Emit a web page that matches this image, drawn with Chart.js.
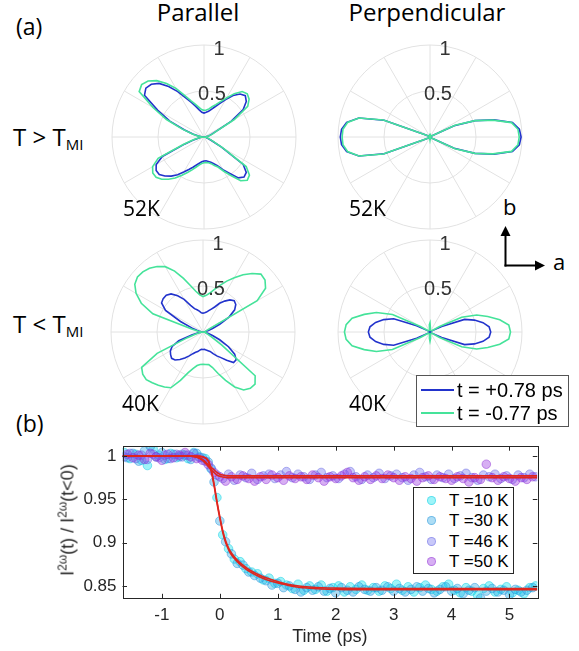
<!DOCTYPE html>
<html>
<head>
<meta charset="utf-8">
<script src="https://cdn.jsdelivr.net/npm/chart.js@4.4.1/dist/chart.umd.min.js"></script>
<style>
  html, body { margin: 0; padding: 0; background: #fff; }
  #fig { position: relative; width: 579px; height: 651px; overflow: hidden; font-family: 'Open Sans', sans-serif; color: #000; }
  #fig canvas { position: absolute; }
  .lbl { position: absolute; line-height: 1; white-space: nowrap; }
  .big { font-size: 24px; }
  .temp { font-size: 21px; }
  .tick { font-family: 'Liberation Sans', Arial, sans-serif; font-size: 20px; color: #333; width: 40px; text-align: center; }
  .box { position: absolute; box-sizing: border-box; background: #fff; font-family: 'Liberation Sans', Arial, sans-serif; }
  .box .lbl { color: #000; }
  .swatch { position: absolute; height: 2px; width: 33px; }
  .dot { position: absolute; width: 9px; height: 9px; border-radius: 50%; box-sizing: border-box; border: 1px solid; }
  #ytitle { position: absolute; left: 68px; top: 520px; transform: translate(-50%, -50%) rotate(-90deg);
            font-family: 'Liberation Sans', Arial, sans-serif; font-size: 18px; color: #262626; white-space: nowrap; }
  #ytitle sup { font-size: 12px; vertical-align: 7px; line-height: 0; }
</style>
</head>
<body>
<div id="fig">
  <div class="lbl big" style="left:16px; top:15px; font-size:23px;">(a)</div>
  <div class="lbl big" style="left:98px; top:0px; width:200px; text-align:center;">Parallel</div>
  <div class="lbl big" style="left:327px; top:0px; width:200px; text-align:center;">Perpendicular</div>
  <div class="lbl big" style="left:13px; top:125px;">T &gt; T<span style="font-size:15px; vertical-align:-4px;">MI</span></div>
  <div class="lbl big" style="left:13px; top:312px;">T &lt; T<span style="font-size:15px; vertical-align:-4px;">MI</span></div>
  <div class="lbl big" style="left:16px; top:412px; font-size:23px;">(b)</div>

  <svg style="position:absolute; left:0; top:0;" width="579" height="651">
    <line x1="505.5" y1="266.5" x2="505.5" y2="233" stroke="#000" stroke-width="2"/>
    <polygon points="505.5,226 500.5,236 510.5,236" fill="#000"/>
    <line x1="504.5" y1="265.5" x2="537" y2="265.5" stroke="#000" stroke-width="2"/>
    <polygon points="545,265.5 535,260.5 535,270.5" fill="#000"/>
  </svg>
  <div class="lbl" style="left:503px; top:195px; font-size:22px;">b</div>
  <div class="lbl" style="left:553px; top:250px; font-size:22px;">a</div>

  <canvas id="timeChart" width="579" height="221" style="left:0; top:430px;"></canvas>
  <div id="ytitle">I<sup>2ω</sup>(t) / I<sup>2ω</sup>(t&lt;0)</div>
</div>

<script>
// polar angles in degrees, counter-clockwise from the +a axis
const polarAngles = [0, 5, 10, 15, 20, 25, 30, 35, 40, 45, 50, 55, 60, 65, 70, 75, 80, 85,
  90, 95, 100, 105, 110, 115, 120, 125, 130, 135, 140, 145, 150, 155, 160, 165, 170, 175,
  180, 185, 190, 195, 200, 205, 210, 215, 220, 225, 230, 235, 240, 245, 250, 255, 260, 265,
  270, 275, 280, 285, 290, 295, 300, 305, 310, 315, 320, 325, 330, 335, 340, 345, 350, 355];

// normalised SHG intensity, parallel channel, 52 K
const parallel52Green = [0.00, 0.02, 0.04, 0.07, 0.10, 0.15, 0.38, 0.58, 0.64, 0.665, 0.645, 0.575, 0.49, 0.425, 0.375, 0.34, 0.31, 0.295,
  0.29, 0.30, 0.33, 0.37, 0.42, 0.50, 0.61, 0.71, 0.80, 0.86, 0.885, 0.86, 0.64, 0.45, 0.25, 0.13, 0.07, 0.03,
  0.00, 0.03, 0.06, 0.12, 0.24, 0.55, 0.645, 0.68, 0.68, 0.65, 0.60, 0.545, 0.48, 0.425, 0.38, 0.34, 0.31, 0.29,
  0.28, 0.28, 0.285, 0.30, 0.33, 0.36, 0.43, 0.51, 0.62, 0.665, 0.645, 0.56, 0.24, 0.10, 0.06, 0.04, 0.02, 0.01];
const parallel52Blue = [0.00, 0.02, 0.04, 0.06, 0.09, 0.14, 0.34, 0.52, 0.60, 0.635, 0.61, 0.55, 0.47, 0.40, 0.35, 0.31, 0.285, 0.27,
  0.26, 0.27, 0.30, 0.345, 0.40, 0.47, 0.57, 0.67, 0.76, 0.81, 0.825, 0.79, 0.58, 0.41, 0.23, 0.12, 0.06, 0.03,
  0.00, 0.03, 0.05, 0.11, 0.22, 0.50, 0.60, 0.635, 0.635, 0.60, 0.555, 0.50, 0.44, 0.39, 0.35, 0.315, 0.29, 0.27,
  0.26, 0.26, 0.27, 0.285, 0.31, 0.345, 0.41, 0.48, 0.58, 0.615, 0.60, 0.52, 0.22, 0.09, 0.05, 0.03, 0.02, 0.01];

// perpendicular channel, 52 K
const perp52Green = [0.97, 0.96, 0.90, 0.71, 0.52, 0.30, 0.04, 0.02, 0.01, 0.01, 0.01, 0.01, 0.01, 0.01, 0.01, 0.01, 0.02, 0.03,
  0.03, 0.02, 0.01, 0.01, 0.01, 0.01, 0.01, 0.01, 0.01, 0.01, 0.01, 0.01, 0.02, 0.05, 0.54, 0.80, 0.91, 0.95,
  0.955, 0.95, 0.91, 0.80, 0.54, 0.05, 0.02, 0.01, 0.01, 0.01, 0.01, 0.01, 0.01, 0.01, 0.01, 0.01, 0.01, 0.02,
  0.03, 0.02, 0.01, 0.01, 0.01, 0.01, 0.01, 0.01, 0.01, 0.01, 0.01, 0.01, 0.04, 0.30, 0.52, 0.71, 0.90, 0.96];
const perp52Blue = [0.99, 0.975, 0.91, 0.72, 0.52, 0.29, 0.04, 0.02, 0.01, 0.01, 0.01, 0.01, 0.01, 0.01, 0.01, 0.01, 0.01, 0.02,
  0.02, 0.01, 0.01, 0.01, 0.01, 0.01, 0.01, 0.01, 0.01, 0.01, 0.01, 0.01, 0.02, 0.05, 0.53, 0.80, 0.92, 0.965,
  0.975, 0.965, 0.92, 0.80, 0.53, 0.05, 0.02, 0.01, 0.01, 0.01, 0.01, 0.01, 0.01, 0.01, 0.01, 0.01, 0.01, 0.02,
  0.02, 0.01, 0.01, 0.01, 0.01, 0.01, 0.01, 0.01, 0.01, 0.01, 0.01, 0.01, 0.04, 0.29, 0.52, 0.72, 0.91, 0.975];

// parallel channel, 40 K
const parallel40Green = [0.00, 0.01, 0.02, 0.03, 0.04, 0.05, 0.68, 0.83, 0.88, 0.89, 0.83, 0.76, 0.68, 0.61, 0.54, 0.48, 0.43, 0.40,
  0.385, 0.405, 0.45, 0.52, 0.62, 0.73, 0.82, 0.87, 0.905, 0.925, 0.93, 0.905, 0.84, 0.74, 0.58, 0.12, 0.05, 0.02,
  0.00, 0.02, 0.04, 0.08, 0.18, 0.55, 0.77, 0.80, 0.805, 0.78, 0.755, 0.73, 0.70, 0.58, 0.47, 0.41, 0.37, 0.355,
  0.35, 0.355, 0.36, 0.40, 0.48, 0.58, 0.69, 0.77, 0.80, 0.80, 0.74, 0.25, 0.11, 0.06, 0.04, 0.03, 0.02, 0.01];
const parallel40Blue = [0.00, 0.01, 0.03, 0.06, 0.11, 0.20, 0.33, 0.42, 0.465, 0.48, 0.455, 0.41, 0.36, 0.30, 0.265, 0.24, 0.22, 0.21,
  0.205, 0.21, 0.23, 0.25, 0.27, 0.32, 0.41, 0.48, 0.54, 0.565, 0.565, 0.55, 0.47, 0.27, 0.13, 0.07, 0.04, 0.02,
  0.00, 0.02, 0.05, 0.12, 0.28, 0.37, 0.41, 0.43, 0.445, 0.43, 0.39, 0.345, 0.30, 0.26, 0.235, 0.22, 0.20, 0.19,
  0.19, 0.19, 0.20, 0.21, 0.225, 0.26, 0.30, 0.34, 0.40, 0.47, 0.47, 0.42, 0.32, 0.20, 0.11, 0.06, 0.03, 0.01];

// perpendicular channel, 40 K
const perp40Green = [0.875, 0.86, 0.77, 0.65, 0.54, 0.38, 0.12, 0.03, 0.02, 0.02, 0.02, 0.02, 0.02, 0.02, 0.02, 0.02, 0.02, 0.05,
  0.10, 0.08, 0.03, 0.02, 0.02, 0.02, 0.02, 0.02, 0.02, 0.02, 0.02, 0.03, 0.12, 0.45, 0.62, 0.74, 0.86, 0.915,
  0.93, 0.915, 0.86, 0.74, 0.62, 0.45, 0.12, 0.03, 0.02, 0.02, 0.02, 0.02, 0.02, 0.02, 0.02, 0.02, 0.03, 0.07,
  0.10, 0.07, 0.03, 0.02, 0.02, 0.02, 0.02, 0.02, 0.02, 0.02, 0.02, 0.02, 0.12, 0.38, 0.54, 0.65, 0.77, 0.86];
const perp40Blue = [0.66, 0.645, 0.585, 0.50, 0.40, 0.14, 0.03, 0.01, 0.01, 0.01, 0.01, 0.01, 0.01, 0.01, 0.01, 0.01, 0.01, 0.01,
  0.02, 0.01, 0.01, 0.01, 0.01, 0.01, 0.01, 0.01, 0.01, 0.01, 0.01, 0.01, 0.03, 0.16, 0.42, 0.52, 0.60, 0.655,
  0.67, 0.655, 0.60, 0.52, 0.42, 0.16, 0.03, 0.01, 0.01, 0.01, 0.01, 0.01, 0.01, 0.01, 0.01, 0.01, 0.01, 0.01,
  0.03, 0.01, 0.01, 0.01, 0.01, 0.01, 0.01, 0.01, 0.01, 0.01, 0.01, 0.01, 0.03, 0.14, 0.40, 0.50, 0.585, 0.645];

const polarTickLabels = ['1', '0.5'];
const polarLegend = ['t = +0.78 ps', 't = -0.77 ps'];

// panel (b): delay times (ps) and normalised SHG signal
const timeA = [-1.65, -1.55, -1.45, -1.35, -1.25, -1.15, -1.05, -0.95, -0.85, -0.75, -0.65, -0.55, -0.45, -0.35, -0.25, -0.15, -0.05,
  0.05, 0.15, 0.25, 0.35, 0.45, 0.55, 0.65, 0.75, 0.85, 0.95, 1.05, 1.15, 1.25, 1.35, 1.45, 1.55, 1.65, 1.75, 1.85, 1.95,
  2.05, 2.15, 2.25, 2.35, 2.45, 2.55, 2.65, 2.75, 2.85, 2.95, 3.05, 3.15, 3.25, 3.35, 3.45, 3.55, 3.65, 3.75, 3.85, 3.95,
  4.05, 4.15, 4.25, 4.35, 4.45, 4.55, 4.65, 4.75, 4.85, 4.95, 5.05, 5.15, 5.25, 5.35, 5.45];
const timeB = [-1.6, -1.5, -1.4, -1.3, -1.2, -1.1, -1.0, -0.9, -0.8, -0.7, -0.6, -0.5, -0.4, -0.3, -0.2, -0.1,
  0.0, 0.1, 0.2, 0.3, 0.4, 0.5, 0.6, 0.7, 0.8, 0.9, 1.0, 1.1, 1.2, 1.3, 1.4, 1.5, 1.6, 1.7, 1.8, 1.9,
  2.0, 2.1, 2.2, 2.3, 2.4, 2.5, 2.6, 2.7, 2.8, 2.9, 3.0, 3.1, 3.2, 3.3, 3.4, 3.5, 3.6, 3.7, 3.8, 3.9,
  4.0, 4.1, 4.2, 4.3, 4.4, 4.5, 4.6, 4.7, 4.8, 4.9, 5.0, 5.1, 5.2, 5.3, 5.4];

const signal10K = [1.004, 0.997, 1.002, 0.995, 0.989, 1.008, 1.001, 0.996, 1.003, 0.998, 1.002, 0.997, 1.004, 0.999, 0.997, 0.985, 0.952,
  0.909, 0.893, 0.881, 0.878, 0.870, 0.866, 0.864, 0.857, 0.859, 0.853,
  0.855, 0.851, 0.847, 0.852, 0.845, 0.850, 0.846, 0.851, 0.844, 0.848,
  0.850, 0.843, 0.849, 0.846, 0.851, 0.845, 0.848, 0.844, 0.850, 0.847,
  0.852, 0.845, 0.849, 0.843, 0.848, 0.851, 0.846, 0.844, 0.849, 0.852,
  0.845, 0.842, 0.848, 0.844, 0.839, 0.847, 0.850, 0.843, 0.846, 0.849,
  0.842, 0.845, 0.841, 0.848, 0.850];
const signal30K = [0.998, 1.003, 0.994, 1.006, 1.011, 0.999, 1.004, 0.997, 1.002, 0.999, 1.001, 0.996, 1.003, 0.998, 0.993, 0.970,
  0.925, 0.901, 0.887, 0.876, 0.874, 0.866, 0.862, 0.859, 0.856, 0.851,
  0.853, 0.848, 0.850, 0.846, 0.843, 0.848, 0.845, 0.849, 0.844, 0.847,
  0.842, 0.848, 0.845, 0.843, 0.849, 0.846, 0.844, 0.848, 0.845, 0.849,
  0.844, 0.847, 0.843, 0.846, 0.849, 0.844, 0.847, 0.842, 0.846, 0.849,
  0.844, 0.847, 0.841, 0.845, 0.848, 0.836, 0.844, 0.847, 0.843, 0.845,
  0.840, 0.846, 0.843, 0.845, 0.848];
const signal46K = [0.999, 1.003, 0.997, 1.001, 0.996, 1.002, 0.998, 1.001, 0.997, 1.002, 0.999, 1.001, 1.003, 0.998, 0.994, 0.986, 0.978,
  0.974, 0.979, 0.972, 0.978, 0.975, 0.980, 0.973, 0.977, 0.979, 0.974,
  0.978, 0.982, 0.975, 0.979, 0.976, 0.973, 0.978, 0.981, 0.975, 0.977,
  0.974, 0.979, 0.982, 0.976, 0.973, 0.978, 0.975, 0.980, 0.974, 0.977,
  0.979, 0.975, 0.972, 0.978, 0.981, 0.976, 0.973, 0.978, 0.975, 0.979,
  0.974, 0.977, 0.980, 0.975, 0.972, 0.978, 0.976, 0.979, 0.974, 0.977,
  0.973, 0.978, 0.975, 0.979, 0.976];
const signal50K = [1.002, 0.998, 1.001, 0.996, 1.003, 0.999, 0.995, 1.002, 0.998, 1.001, 1.004, 0.999, 0.997, 0.995, 0.990, 0.981,
  0.976, 0.971, 0.976, 0.973, 0.977, 0.974, 0.971, 0.976, 0.973, 0.978,
  0.975, 0.972, 0.977, 0.974, 0.976, 0.973, 0.978, 0.975, 0.971, 0.976,
  0.974, 0.977, 0.981, 0.975, 0.972, 0.976, 0.973, 0.977, 0.974, 0.978,
  0.975, 0.972, 0.976, 0.974, 0.971, 0.975, 0.977, 0.973, 0.976, 0.974,
  0.972, 0.976, 0.974, 0.970, 0.975, 0.973, 0.9905, 0.975, 0.972, 0.976,
  0.974, 0.971, 0.975, 0.973, 0.976];

// fitted curves
const fitTime = [-1.68, -0.6, -0.4, -0.3, -0.2, -0.15, -0.1, -0.05, 0, 0.05, 0.1, 0.15, 0.2, 0.3, 0.4, 0.5, 0.7, 0.9, 1.1, 1.3, 1.6, 2.0, 3.0, 5.48];
const fit10K = [1, 1, 1, 0.999, 0.995, 0.985, 0.968, 0.948, 0.93, 0.914, 0.902, 0.894, 0.888, 0.88, 0.874, 0.869, 0.862, 0.857, 0.853, 0.8505, 0.8485, 0.8475, 0.847, 0.847];
const fit30K = [1, 1, 1, 0.999, 0.994, 0.983, 0.966, 0.946, 0.928, 0.912, 0.90, 0.892, 0.886, 0.878, 0.872, 0.867, 0.86, 0.855, 0.852, 0.849, 0.847, 0.846, 0.8455, 0.8455];
const fit46K = [1, 1, 0.999, 0.996, 0.990, 0.987, 0.984, 0.981, 0.979, 0.978, 0.9775, 0.977, 0.977, 0.977, 0.977, 0.977, 0.977, 0.977, 0.977, 0.977, 0.977, 0.977, 0.977, 0.977];
const fit50K = [1, 1, 0.9985, 0.995, 0.988, 0.984, 0.981, 0.978, 0.9765, 0.9757, 0.9752, 0.975, 0.975, 0.975, 0.975, 0.975, 0.975, 0.975, 0.975, 0.975, 0.975, 0.975, 0.975, 0.975];

const seriesNames = ['T =10 K', 'T =30 K', 'T =46 K', 'T =50 K'];
const xTickStep = 1;
const yTickStep = 0.05;

const colors = {
    blue: '#2233cc',
    green: '#45e39a',
    grid: '#e2e2e2',
    axis: '#262626',
    fit: '#e0261e',
    dots: ['rgba(0, 225, 240, 0.38)', 'rgba(40, 165, 230, 0.38)', 'rgba(110, 110, 240, 0.38)', 'rgba(155, 55, 225, 0.40)'],
    dotEdges: ['rgba(0, 200, 225, 0.45)', 'rgba(30, 145, 215, 0.45)', 'rgba(95, 95, 225, 0.45)', 'rgba(140, 45, 210, 0.45)']
};

Chart.defaults.font.family = "'Liberation Sans', Arial, sans-serif";
Chart.defaults.animation = false;

const fig = document.getElementById('fig');

function addLabel(html, left, top, cls, style) {
    const el = document.createElement('div');
    el.className = 'lbl ' + (cls || '');
    el.innerHTML = html;
    el.style.left = left + 'px';
    el.style.top = top + 'px';
    if (style) el.style.cssText += style;
    fig.appendChild(el);
    return el;
}

// radar runs clockwise from startAngle, the measured patterns run counter-clockwise
function toRadarOrder(values) {
    const n = polarAngles.length;
    return polarAngles.map((a, i) => values[(n - i) % n]);
}

const polarPanels = [
    { id: 'par52', cx: 204, cy: 137, tempLabel: '52K', green: parallel52Green, blue: parallel52Blue },
    { id: 'perp52', cx: 430, cy: 137, tempLabel: '52K', green: perp52Green, blue: perp52Blue },
    { id: 'par40', cx: 203, cy: 332, tempLabel: '40K', green: parallel40Green, blue: parallel40Blue },
    { id: 'perp40', cx: 430, cy: 332, tempLabel: '40K', green: perp40Green, blue: perp40Blue }
];

function createPolarChart(panel) {
    const canvas = document.createElement('canvas');
    canvas.id = panel.id;
    canvas.width = 190;
    canvas.height = 190;
    canvas.style.left = (panel.cx - 95) + 'px';
    canvas.style.top = (panel.cy - 95) + 'px';
    fig.insertBefore(canvas, document.getElementById('timeChart'));

    new Chart(canvas, {
        type: 'radar',
        data: {
            labels: polarAngles,
            datasets: [
                { data: toRadarOrder(panel.green), borderColor: colors.green, fill: false },
                { data: toRadarOrder(panel.blue), borderColor: colors.blue, fill: false }
            ]
        },
        options: {
            responsive: false,
            layout: { padding: 3 },
            elements: {
                line: { borderWidth: 1.6, tension: 0 },
                point: { radius: 0, hitRadius: 0 }
            },
            plugins: { legend: { display: false }, tooltip: { enabled: false } },
            scales: {
                r: {
                    min: 0,
                    max: 1,
                    startAngle: 90,
                    ticks: { display: false, stepSize: 0.5 },
                    pointLabels: { display: false },
                    grid: { circular: true, color: colors.grid, lineWidth: 1 },
                    angleLines: {
                        color: colors.grid,
                        lineWidth: ctx => (ctx.index % 6 === 0 ? 1 : 0)
                    }
                }
            }
        }
    });

    // radial tick labels sit just right of the 90 degree spoke
    addLabel(polarTickLabels[0], panel.cx + 15 - 20, panel.cy - 82 - 17, 'tick');
    addLabel(polarTickLabels[1], panel.cx + 8 - 20, panel.cy - 37 - 17, 'tick');
    addLabel(panel.tempLabel, panel.cx - 81, panel.cy + 80 - 18.6, 'temp');
}

polarPanels.forEach(createPolarChart);

// legend of the polar panels
const pLeg = document.createElement('div');
pLeg.className = 'box';
pLeg.style.cssText = 'left:416px; top:375px; width:153px; height:52px; border:1px solid #555;';
pLeg.innerHTML = `
  <div class="swatch" style="left:4px; top:13px; background:${colors.blue}"></div>
  <div class="lbl" style="left:40px; top:4px; font-size:20px;">${polarLegend[0]}</div>
  <div class="swatch" style="left:4px; top:36px; background:${colors.green}"></div>
  <div class="lbl" style="left:40px; top:27px; font-size:20px;">${polarLegend[1]}</div>`;
fig.appendChild(pLeg);

// legend of panel (b)
const tLeg = document.createElement('div');
tLeg.className = 'box';
tLeg.style.cssText = 'left:413px; top:487px; width:101px; height:87px; border:1px solid #262626;';
tLeg.innerHTML = seriesNames.map((name, i) => `
  <div class="dot" style="left:13px; top:${8 + i * 20.3}px; background:${colors.dots[i]}; border-color:${colors.dotEdges[i]}"></div>
  <div class="lbl" style="left:35px; top:${4 + i * 20.3}px; font-size:17px;">${name}</div>`).join('');
fig.appendChild(tLeg);

// --- panel (b) ---

const boxTicks = {
    id: 'boxTicks',
    afterDatasetsDraw(chart) {
        const { ctx, chartArea: a, scales: { x, y } } = chart;
        const len = 4.5;
        ctx.save();
        ctx.strokeStyle = colors.axis;
        ctx.lineWidth = 1;
        ctx.beginPath();
        x.ticks.forEach(t => {
            const px = Math.round(x.getPixelForValue(t.value)) + 0.5;
            ctx.moveTo(px, a.bottom); ctx.lineTo(px, a.bottom - len);
            ctx.moveTo(px, a.top); ctx.lineTo(px, a.top + len);
        });
        y.ticks.forEach(t => {
            const py = Math.round(y.getPixelForValue(t.value)) + 0.5;
            ctx.moveTo(a.left, py); ctx.lineTo(a.left + len, py);
            ctx.moveTo(a.right, py); ctx.lineTo(a.right - len, py);
        });
        ctx.stroke();
        ctx.strokeRect(Math.round(a.left) + 0.5, Math.round(a.top) + 0.5, Math.round(a.width), Math.round(a.height));
        ctx.restore();
    }
};

function fitLine(values) {
    return {
        data: fitTime.map((t, i) => ({ x: t, y: values[i] })),
        showLine: true,
        borderColor: colors.fit,
        borderWidth: 1.6,
        pointRadius: 0,
        cubicInterpolationMode: 'monotone',
        order: 0
    };
}

function dots(times, values, i) {
    return {
        label: seriesNames[i],
        data: times.map((t, k) => ({ x: t, y: values[k] })),
        pointRadius: 4.3,
        pointBorderWidth: 1,
        pointBackgroundColor: colors.dots[i],
        pointBorderColor: colors.dotEdges[i],
        order: 4 - i
    };
}

new Chart(document.getElementById('timeChart'), {
    type: 'scatter',
    data: {
        datasets: [
            fitLine(fit10K), fitLine(fit30K), fitLine(fit46K), fitLine(fit50K),
            dots(timeA, signal10K, 0), dots(timeB, signal30K, 1),
            dots(timeA, signal46K, 2), dots(timeB, signal50K, 3)
        ]
    },
    options: {
        responsive: false,
        layout: { padding: { left: 0, right: 41.7, top: 13.3, bottom: 0 } },
        plugins: { legend: { display: false }, tooltip: { enabled: false } },
        scales: {
            x: {
                type: 'linear',
                min: -1.68,
                max: 5.48,
                grid: { display: false, drawTicks: false },
                border: { display: false },
                ticks: {
                    stepSize: xTickStep, includeBounds: false, padding: 7, maxRotation: 0, autoSkip: false,
                    color: colors.axis, font: { size: 17 },
                    callback: v => String(v)
                },
                title: { display: true, text: 'Time (ps)', color: colors.axis, font: { size: 18 }, padding: { top: 0, bottom: 3 } },
                afterFit: s => { s.height = 52.7; }
            },
            y: {
                type: 'linear',
                min: 0.8357,
                max: 1.0113,
                grid: { display: false, drawTicks: false },
                border: { display: false },
                ticks: {
                    stepSize: yTickStep, includeBounds: false, padding: 6,
                    color: colors.axis, font: { size: 17 },
                    callback: v => String(+v.toFixed(2))
                },
                afterFit: s => { s.width = 122.5; }
            }
        }
    },
    plugins: [boxTicks]
});
</script>
</body>
</html>
